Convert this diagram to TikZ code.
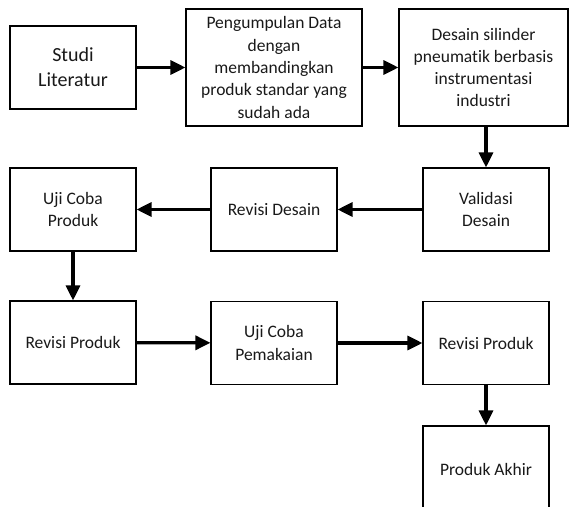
\documentclass[tikz,border=0pt]{standalone}
\usepackage{fontspec}
\setmainfont{Carlito}[Ligatures=NoCommon]
\usetikzlibrary{arrows.meta}
\begin{document}
\begin{tikzpicture}[x=1pt,y=-1pt,
  box/.style={draw=black,line width=1.1pt,align=center,inner sep=0pt,
    font=\fontsize{17.5}{22.3}\selectfont,text=black!90},
  b126/.style={box,minimum width=126pt,minimum height=83pt},
  flow/.style={line width=3.2pt,-{Triangle[length=15pt,width=14pt]}}]
\useasboundingbox (0,0) rectangle (570,506);
\node[box,minimum width=126pt,minimum height=83pt,font=\fontsize{20}{25}\selectfont] (studi) at (73,67.5) {Studi\\Literatur};
\node[box,minimum width=176pt,minimum height=117pt] (data) at (274,67.5) {Pengumpulan Data\\dengan\\membandingkan\\produk standar yang\\sudah ada};
\node[box,minimum width=169pt,minimum height=117pt] (desain) at (483.5,67.5) {Desain silinder\\pneumatik berbasis\\instrumentasi\\industri};
\node[b126] (valid) at (486,209.5) {Validasi\\Desain};
\node[b126] (revdes) at (274,209.5) {Revisi Desain};
\node[b126] (ujiprod) at (73,209.5) {Uji Coba\\Produk};
\node[b126] (revprod) at (73,342.5) {Revisi Produk};
\node[b126] (pakai) at (274,343) {Uji Coba\\Pemakaian};
\node[b126] (revprodb) at (486,343) {Revisi Produk};
\node[box,minimum width=126pt,minimum height=86pt] (akhir) at (486,469) {Produk Akhir};
\draw[flow] (studi) -- (data);
\draw[flow] (data) -- (desain);
\draw[flow] (valid.north |- desain.south) -- (valid.north);
\draw[flow] (valid) -- (revdes);
\draw[flow] (revdes) -- (ujiprod);
\draw[flow] (ujiprod) -- (revprod);
\draw[flow] (revprod) -- (pakai);
\draw[flow] (pakai) -- (revprodb);
\draw[flow] (revprodb) -- (akhir);
\end{tikzpicture}
\end{document}
